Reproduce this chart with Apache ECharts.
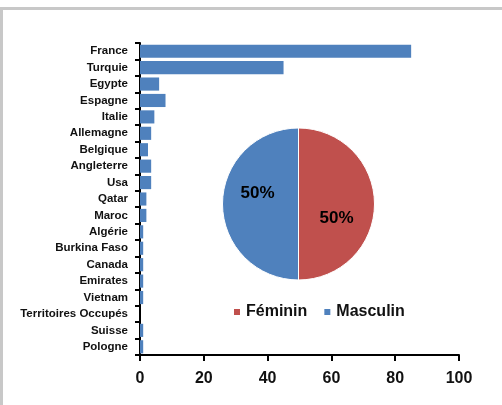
<!DOCTYPE html>
<html>
<head>
<meta charset="utf-8">
<script src="https://cdn.jsdelivr.net/npm/echarts@6/dist/echarts.min.js"></script>
<style>
  html, body { margin: 0; padding: 0; background: #fff; }
  #chart { width: 502px; height: 405px; }
</style>
</head>
<body>
<div id="chart"></div>
<script>
// pays (de haut en bas)
var pays = ["France", "Turquie", "Egypte", "Espagne", "Italie", "Allemagne", "Belgique",
  "Angleterre", "Usa", "Qatar", "Maroc", "Algérie", "Burkina Faso", "Canada", "Emirates",
  "Vietnam", "Territoires Occupés", "Suisse", "Pologne"];
var valeurs = [85, 45, 6, 8, 4.5, 3.5, 2.5, 3.5, 3.5, 2, 2, 1, 1, 1, 1, 1, 0, 1, 1];
var xTicks = [0, 20, 40, 60, 80, 100];

var sexes = ["Féminin", "Masculin"];
var parts = [50, 50];

var font = "Liberation Sans";
var myChart = echarts.init(document.getElementById("chart"));

var option = {
  animation: false,
  textStyle: { fontFamily: font },
  // cadre gris (haut + gauche)
  graphic: [
    { type: "rect", shape: { x: 0, y: 7, width: 502, height: 3 }, style: { fill: "#c8c8c8" } },
    { type: "rect", shape: { x: 0, y: 7, width: 3, height: 398 }, style: { fill: "#c8c8c8" } }
  ],
  grid: { left: 140, right: 43, top: 43, bottom: 50, outerBoundsMode: "none" },
  xAxis: {
    type: "value",
    min: xTicks[0],
    max: xTicks[xTicks.length - 1],
    interval: 20,
    splitLine: { show: false },
    axisLine: { show: true, lineStyle: { color: "#000", width: 2 } },
    axisTick: { show: true, length: 6, lineStyle: { color: "#000", width: 2 } },
    axisLabel: { color: "#111", fontSize: 16, fontWeight: "bold", margin: 16 }
  },
  yAxis: {
    type: "category",
    inverse: true,
    data: pays,
    axisLine: { lineStyle: { color: "#000", width: 2 } },
    axisTick: { show: true, length: 5, lineStyle: { color: "#000", width: 2 } },
    axisLabel: { color: "#111", fontSize: 11.5, fontWeight: "bold", margin: 12, interval: 0 }
  },
  legend: {
    data: sexes,
    left: 227,
    top: 299,
    icon: "rect",
    itemWidth: 8,
    itemHeight: 8,
    itemGap: 15,
    textStyle: { color: "#111", fontSize: 16, fontWeight: "bold" }
  },
  series: [
    {
      type: "bar",
      data: valeurs,
      barCategoryGap: "20%",
      itemStyle: { color: "#4F81BD" }
    },
    {
      type: "pie",
      center: [298.5, 204],
      radius: 76,
      startAngle: 90,
      itemStyle: { borderColor: "#fff", borderWidth: 1 },
      label: {
        show: true,
        position: "inside",
        formatter: "{d}%",
        color: "#000",
        fontSize: 17,
        fontWeight: "bold"
      },
      labelLine: { show: false },
      labelLayout: function (params) {
        return { dx: params.dataIndex === 0 ? -3 : 0, dy: params.dataIndex === 0 ? 14 : -11 };
      },
      data: [
        { name: sexes[0], value: parts[0], itemStyle: { color: "#C0504D" } },
        { name: sexes[1], value: parts[1], itemStyle: { color: "#4F81BD" } }
      ]
    }
  ]
};

myChart.setOption(option);
</script>
</body>
</html>
